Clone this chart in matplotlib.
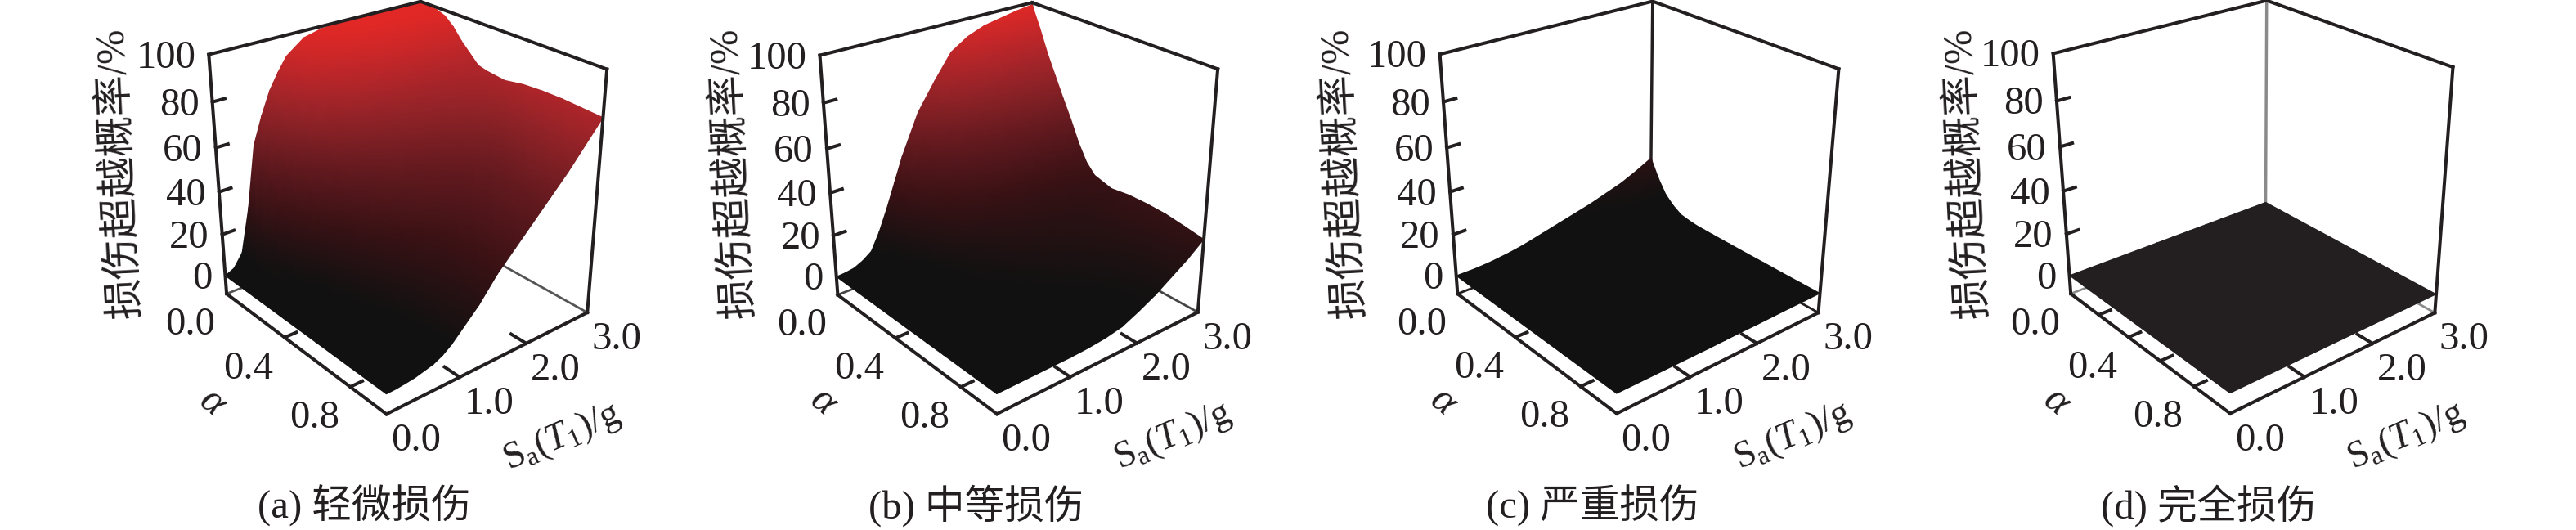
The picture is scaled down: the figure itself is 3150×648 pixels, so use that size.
import numpy as np
import matplotlib
matplotlib.use('Agg')
import matplotlib.pyplot as plt
from matplotlib.colors import LinearSegmentedColormap, Normalize

plt.rcParams['font.family'] = ['Liberation Serif', 'Noto Sans CJK SC']
plt.rcParams['mathtext.fontset'] = 'custom'
plt.rcParams['mathtext.rm'] = 'Liberation Serif'
plt.rcParams['mathtext.it'] = 'Liberation Serif:italic'

# -----------------------------
# Data
# -----------------------------
alpha_vals = [0.0, 0.05, 0.1, 0.15, 0.2, 0.25, 0.3, 0.35, 0.4, 0.5, 0.6, 0.7, 0.8, 0.9, 1.0]
sa_vals = [0.0, 0.125, 0.25, 0.375, 0.5, 0.625, 0.75, 0.875, 1.0, 1.25, 1.5, 1.75, 2.0, 2.25, 2.5, 2.75, 3.0]

slight = [
    [0, 2, 8, 28, 56, 68, 78, 85, 91, 97, 99, 99.5, 100, 100, 100, 100, 100],
    [0, 1.5, 7, 24, 50, 63, 73, 81, 88, 95, 98, 99, 99.5, 100, 100, 100, 99.5],
    [0, 1.2, 6, 20, 43, 56, 67, 76, 84, 92, 96, 98, 99, 99.5, 99.5, 99.5, 99],
    [0, 1, 5, 16, 35, 48, 60, 69, 77, 87, 92, 95, 96, 97, 97.5, 97.5, 97.5],
    [0, 0.8, 4, 13, 28, 40, 52, 61, 69, 80, 87, 91, 93, 94, 94.5, 94.5, 94],
    [0, 0.6, 3, 10, 21, 32, 43, 52, 60, 72, 79, 84, 87, 88, 89, 89.5, 89],
    [0, 0.5, 2.5, 7, 15, 24, 34, 43, 52, 64, 71, 76, 79, 81, 83, 84, 85],
    [0, 0.4, 2, 5.5, 11, 18, 27, 35, 44, 56, 64, 69, 73, 76, 78, 80, 81],
    [0, 0.3, 1.5, 4, 8, 14, 22, 29, 38, 50, 58, 64, 68, 71, 74, 77, 80],
    [0, 0.3, 1, 2.5, 5, 9, 15, 21, 28, 39, 47, 53, 58, 62, 67, 73, 79],
    [0, 0.2, 1, 2, 4, 7, 11, 16, 21, 31, 39, 46, 51, 56, 62, 70, 80.5],
    [0, 0.2, 0.8, 1.5, 3, 5, 8, 12, 16, 25, 33, 40, 46, 52, 59, 70, 81],
    [0, 0.2, 0.7, 1.3, 2.5, 4, 6.5, 10, 14, 22, 31, 38, 45, 52, 61, 71, 81],
    [0, 0.1, 0.6, 1.1, 2, 3.5, 5.5, 9, 13, 21, 30, 38, 46, 53, 62, 71.5, 80.5],
    [0, 0.1, 0.5, 1, 2, 3, 5, 8, 12, 20, 30, 38, 46, 54, 62, 71, 80],
]
moderate = [
    [0, 0.3, 1, 3, 6, 14, 24, 35, 46, 64, 76, 87, 92, 95, 96.5, 98, 99],
    [0, 0.2, 0.8, 2.5, 5, 12, 20, 30, 39, 55, 67, 77, 83, 86, 88, 89, 89.5],
    [0, 0.2, 0.6, 2, 4, 9, 16, 24, 32, 46, 57, 65, 71, 74, 76, 78, 79],
    [0, 0.1, 0.5, 1.5, 3, 7, 13, 19, 26, 38, 48, 55, 60, 63, 66, 68, 70],
    [0, 0.1, 0.4, 1.2, 2.5, 6, 10, 15, 21, 31, 40, 46, 50, 53, 56, 59, 61],
    [0, 0.1, 0.3, 1, 2, 4.5, 8, 12, 17, 25, 32, 38, 42, 45, 48, 50, 52.5],
    [0, 0.1, 0.3, 0.8, 1.5, 3.5, 6, 9, 13, 20, 26, 30, 33, 35, 38, 41, 43],
    [0, 0, 0.2, 0.6, 1.2, 3, 5, 7.5, 11, 16, 21, 25, 27, 29, 31, 33, 35.5],
    [0, 0, 0.2, 0.5, 1, 2.2, 4, 6, 9, 14, 18, 22, 24, 25.5, 27, 29, 31],
    [0, 0, 0.1, 0.3, 0.7, 1.5, 3, 4.5, 6, 10, 14, 17, 19, 21, 23, 26, 28.5],
    [0, 0, 0.1, 0.2, 0.5, 1, 2, 3, 4, 7, 10, 13, 15, 18, 21, 25, 29.5],
    [0, 0, 0, 0.1, 0.3, 0.6, 1.2, 2, 3, 5, 7, 10, 12, 15, 19, 24, 29.5],
    [0, 0, 0, 0.1, 0.2, 0.4, 0.8, 1.3, 2, 3, 5, 7, 9, 12.5, 17, 23, 29],
    [0, 0, 0, 0, 0.1, 0.2, 0.4, 0.7, 1, 1.8, 3, 4.5, 7, 11, 16, 21.5, 27.6],
    [0, 0, 0, 0, 0, 0, 0, 0, 0, 0.3, 1, 2.5, 6, 10, 15, 20, 26],
]
severe = [
    [0, 0, 0, 0.2, 0.5, 1, 1.5, 2.2, 3, 5, 7, 9, 11, 13.5, 16, 19.5, 23.5],
    [0, 0, 0, 0.1, 0.4, 0.7, 1.1, 1.6, 2.2, 3.5, 5, 6.5, 8, 9.5, 11, 13, 15],
    [0, 0, 0, 0.1, 0.3, 0.5, 0.8, 1.1, 1.5, 2.5, 3.5, 4.5, 5.5, 6.5, 7, 7.5, 8.5],
    [0, 0, 0, 0, 0.2, 0.3, 0.5, 0.7, 1, 1.6, 2.2, 2.8, 3.3, 3.8, 4.2, 4.5, 4.8],
    [0, 0, 0, 0, 0.1, 0.2, 0.3, 0.5, 0.6, 1, 1.3, 1.6, 1.8, 2, 2.1, 2.2, 2.3],
    [0, 0, 0, 0, 0, 0.1, 0.2, 0.3, 0.4, 0.6, 0.9, 1.1, 1.2, 1.3, 1.4, 1.4, 1.5],
    [0, 0, 0, 0, 0, 0.1, 0.1, 0.2, 0.2, 0.3, 0.5, 0.6, 0.7, 0.8, 0.9, 0.9, 1],
    [0, 0, 0, 0, 0, 0, 0.1, 0.1, 0.2, 0.3, 0.4, 0.5, 0.6, 0.7, 0.8, 0.8, 0.9],
    [0, 0, 0, 0, 0, 0, 0, 0.1, 0.1, 0.2, 0.3, 0.4, 0.5, 0.6, 0.7, 0.8, 0.8],
    [0, 0, 0, 0, 0, 0, 0, 0, 0.1, 0.2, 0.3, 0.4, 0.5, 0.5, 0.6, 0.7, 0.7],
    [0, 0, 0, 0, 0, 0, 0, 0, 0, 0.1, 0.2, 0.3, 0.4, 0.5, 0.5, 0.6, 0.6],
    [0, 0, 0, 0, 0, 0, 0, 0, 0, 0.1, 0.2, 0.3, 0.3, 0.4, 0.5, 0.5, 0.6],
    [0, 0, 0, 0, 0, 0, 0, 0, 0, 0.1, 0.1, 0.2, 0.3, 0.4, 0.4, 0.5, 0.5],
    [0, 0, 0, 0, 0, 0, 0, 0, 0, 0, 0.1, 0.2, 0.3, 0.3, 0.4, 0.5, 0.5],
    [0, 0, 0, 0, 0, 0, 0, 0, 0, 0, 0.1, 0.2, 0.2, 0.3, 0.4, 0.4, 0.5],
]
complete = [[0] * len(sa_vals) for _ in alpha_vals]

z_ticks = [0, 20, 40, 60, 80, 100]
alpha_labels = [0.0, 0.4, 0.8]
sa_labels = [0.0, 1.0, 2.0, 3.0]
captions = ['(a) 轻微损伤', '(b) 中等损伤', '(c) 严重损伤', '(d) 完全损伤']
z_title = '损伤超越概率/%'

# -----------------------------
# Layout: where each box corner lands on the page
# order: top-left, top-back, top-right, bottom-left, bottom-front, bottom-right, bottom-back
# -----------------------------
Z_FLOOR = -9
box_axes = [(0, 0, 100), (0, 3, 100), (1, 3, 100), (0, 0, Z_FLOOR), (1, 0, Z_FLOOR), (1, 3, Z_FLOOR), (0, 3, Z_FLOOR)]
box_pixels = [
    [(256, 66), (513, 2), (743, 85), (277, 360), (472, 506), (718, 382), (513, 267)],
    [(1003, 67), (1261, 4), (1490, 84), (1024, 362), (1219, 505), (1464, 383), (1261, 267)],
    [(1761, 66), (2020, 2), (2249, 84), (1782, 360), (1977, 505), (2223, 383), (2019, 267)],
    [(2511, 65), (2771, 1), (3000, 82), (2532, 360), (2727, 505), (2977, 383), (2771, 267)],
]
ylabel_x = [147, 897, 1644, 2406]
caption_x = [445, 1194, 1947, 2701]
alpha_minor = [[0.4, 0.8], [0.4, 0.8], [0.4, 0.8], [0.2, 0.4, 0.6, 0.8]]
low_colors = ['#111111', '#111111', '#111111', '#231f20']
back_colors = ['#555555', '#444444', '#231f20', '#8a8a8a']
back_widths = [2.0, 2.0, 2.5, 2.5]


def fit_camera(world, pixels):
    # plain DLT, 3x4 projection from the box corners
    rows = []
    for (a, s, z), (u, v) in zip(world, pixels):
        rows.append([a, s, z, 1, 0, 0, 0, 0, -u * a, -u * s, -u * z, -u])
        rows.append([0, 0, 0, 0, a, s, z, 1, -v * a, -v * s, -v * z, -v])
    _, _, vt = np.linalg.svd(np.array(rows, dtype=float))
    return vt[-1].reshape(3, 4)


def project(cam, a, s, z):
    a, s, z = np.broadcast_arrays(np.asarray(a, float), np.asarray(s, float), np.asarray(z, float))
    pts = np.stack([a, s, z, np.ones_like(a)], axis=0)
    out = np.tensordot(cam, pts, axes=1)
    return out[0] / out[2], out[1] / out[2]


def heat_cmap(low):
    return LinearSegmentedColormap.from_list('heat', [
        (0.0, low), (0.08, low), (0.3, (55 / 255, 17 / 255, 20 / 255)),
        (0.5, (95 / 255, 25 / 255, 30 / 255)), (0.7, (145 / 255, 35 / 255, 40 / 255)),
        (0.85, (185 / 255, 38 / 255, 42 / 255)), (1.0, (226 / 255, 40 / 255, 38 / 255))])


fig = plt.figure(figsize=(31.5, 6.48), dpi=100)
ax = fig.add_axes([0, 0, 1, 1])
ax.set_xlim(0, 3150)
ax.set_ylim(648, 0)
ax.axis('off')
ax.autoscale(False)

INK = '#231f20'
TICK_FS = 35
LABEL_FS = 36
panels = [slight, moderate, severe, complete]

for i, rows in enumerate(panels):
    cam = fit_camera(box_axes, box_pixels[i])

    def line3d(p, q, color=INK, lw=2.9, zorder=3):
        x, y = project(cam, [p[0], q[0]], [p[1], q[1]], [p[2], q[2]])
        ax.plot(x, y, color=color, lw=lw, zorder=zorder, solid_capstyle='projecting')

    # back edges sit behind the surface
    line3d((0, 3, Z_FLOOR), (0, 3, 100), back_colors[i], back_widths[i], 1)
    line3d((0, 0, Z_FLOOR), (0, 3, Z_FLOOR), back_colors[i], 2.0, 1)
    line3d((1, 3, Z_FLOOR), (0, 3, Z_FLOOR), back_colors[i], 2.0, 1)

    # surface, far corner first so near cells paint over it
    S, A = np.meshgrid(sa_vals[::-1], alpha_vals)
    Z = np.array(rows, dtype=float)[:, ::-1]
    X2, Y2 = project(cam, A, S, Z)
    ax.pcolormesh(X2, Y2, Z, shading='gouraud', cmap=heat_cmap(low_colors[i]),
                  norm=Normalize(0, 100), zorder=2)

    # frame
    line3d((0, 0, 100), (0, 3, 100))
    line3d((0, 3, 100), (1, 3, 100))
    line3d((0, 0, 100), (0, 0, Z_FLOOR))
    line3d((1, 3, 100), (1, 3, Z_FLOOR))
    line3d((0, 0, Z_FLOOR), (1, 0, Z_FLOOR))
    line3d((1, 0, Z_FLOOR), (1, 3, Z_FLOOR))

    # ticks
    for t in z_ticks[1:-1]:
        line3d((0, 0, t), (0, 0.16, t))
    for t in alpha_minor[i]:
        line3d((t, 0, Z_FLOOR), (t, 0.16, Z_FLOOR))
    for t in sa_labels[1:-1]:
        line3d((1, t, Z_FLOOR), (0.92, t, Z_FLOOR))

    # tick labels
    for t in z_ticks:
        x, y = project(cam, 0, 0, t)
        ax.text(x - 16, y + 4, str(t), ha='right', va='center', fontsize=TICK_FS, color=INK)
    for t in alpha_labels:
        x, y = project(cam, t, 0, Z_FLOOR)
        ax.text(x - 44, y + 38, f'{t:.1f}', ha='center', va='center', fontsize=TICK_FS, color=INK)
    for t in sa_labels:
        x, y = project(cam, 1, t, Z_FLOOR)
        ax.text(x + 36, y + 33, f'{t:.1f}', ha='center', va='center', fontsize=TICK_FS, color=INK)

    # axis titles
    bx, by = box_pixels[i][4]
    ax.text(bx - 211, by - 14, r'$\alpha$', ha='center', va='center', rotation=-40,
            fontsize=LABEL_FS, color=INK)
    ax.text(bx + 215, by + 28, r'S$_{\mathrm{a}}$($T_1$)/g', ha='center', va='center', rotation=23.5,
            rotation_mode='anchor', fontsize=33, color=INK)
    ax.text(ylabel_x[i], 211, z_title, ha='center', va='center', rotation=93,
            rotation_mode='anchor', fontsize=LABEL_FS, color=INK)
    ax.text(caption_x[i], 618, captions[i], ha='center', va='center', fontsize=35, color=INK)

fig.savefig('out.png', dpi=100)
